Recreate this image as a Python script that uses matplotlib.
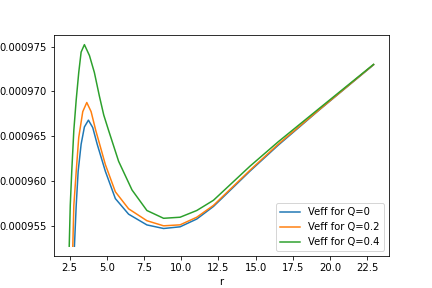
import numpy as np
import matplotlib
matplotlib.use("Agg")
import matplotlib.pyplot as plt

# values
r_q0 = [2.83, 2.95, 3.08, 3.28, 3.50, 3.77, 4.06, 4.36, 4.91, 5.58, 6.47, 7.70,
        8.82, 9.93, 11.05, 12.17, 14.62, 16.52, 19.31, 22.93]
veff_q0 = [0.00095272, 0.00095728, 0.00096108, 0.00096411, 0.00096604, 0.00096680,
           0.00096597, 0.00096411, 0.00096108, 0.00095804, 0.00095630, 0.00095510,
           0.00095470, 0.00095489, 0.00095576, 0.00095716, 0.00096110,
           0.00096400, 0.00096798, 0.00097298]

r_q02 = [2.72, 2.79, 2.95, 3.12, 3.39, 3.66, 3.95, 4.26, 4.91, 5.58, 6.47, 7.70,
         8.82, 9.93, 11.05, 12.17, 14.62, 16.52, 19.31, 22.93]
veff_q02 = [0.00095272, 0.00095728, 0.00096108, 0.00096487, 0.00096775, 0.00096877,
            0.00096775, 0.00096567, 0.00096183, 0.00095880, 0.00095690, 0.00095557,
            0.00095500, 0.00095511, 0.00095596, 0.00095728, 0.00096120,
            0.00096411, 0.00096801, 0.00097300]

r_q04 = [2.48, 2.55, 2.65, 2.79, 2.95, 3.12, 3.28, 3.50, 3.84, 4.17, 4.51, 4.80,
         5.13, 5.80, 6.70, 7.70, 8.82, 9.93, 11.05, 12.17, 14.62, 16.52,
         19.31, 22.93]
veff_q04 = [0.00095272, 0.00095728, 0.00096108, 0.00096567, 0.00096908, 0.00097212,
            0.00097440, 0.00097523, 0.00097401, 0.00097212, 0.00096946, 0.00096737,
            0.00096563, 0.00096220, 0.00095900, 0.00095671, 0.00095584, 0.00095596,
            0.00095671, 0.00095785, 0.00096165, 0.00096438, 0.00096815,
            0.00097303]


def main():
    fig, ax = plt.subplots(figsize=(6, 4), dpi=72)
    ax.plot(r_q0, veff_q0, label='Veff for Q=0')
    ax.plot(r_q02, veff_q02, label='Veff for Q=0.2')
    ax.plot(r_q04, veff_q04, label='Veff for Q=0.4')
    ax.set_xlabel('r')
    ax.legend(loc='lower right')
    fig.savefig('out.png', dpi=72)


if __name__ == '__main__':
    main()
